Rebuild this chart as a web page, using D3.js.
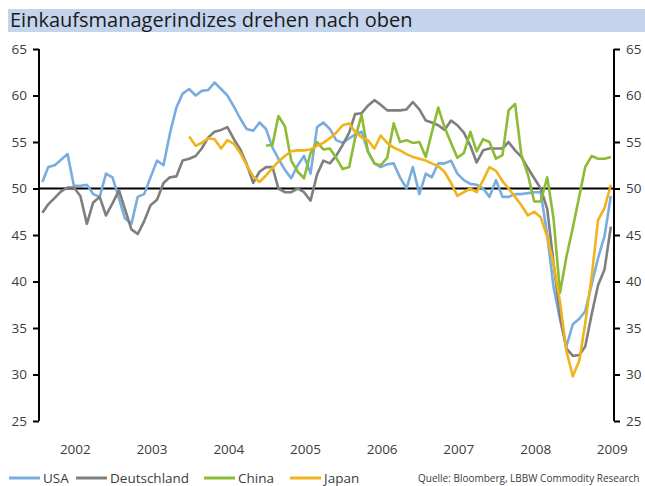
<!DOCTYPE html>
<html lang="de">
<head>
<meta charset="utf-8">
<script src="https://d3js.org/d3.v7.min.js"></script>
<style>
  body { margin: 0; background: #fff; }
  text { font-family: "Open Sans", "DejaVu Sans", sans-serif; }
</style>
</head>
<body>
<svg id="chart" width="645" height="486"></svg>
<script>
  // monthly PMI values, USA + Deutschland from Feb 2002 to Jul 2009
  var usa = [50.7, 52.3, 52.5, 53.1, 53.7, 50.3, 50.3, 50.4, 49.4, 49.1,
    51.6, 51.2, 48.9, 46.8, 46.2, 49.1, 49.4, 51.2, 53.0, 52.5,
    55.9, 58.7, 60.2, 60.7, 60.0, 60.5, 60.6, 61.4, 60.7, 60.0,
    58.8, 57.5, 56.4, 56.2, 57.1, 56.4, 54.4, 53.2, 52.0, 51.1,
    52.5, 53.5, 51.6, 56.6, 57.1, 56.4, 55.2, 54.9, 55.4, 55.8,
    56.1, 54.0, 52.7, 52.3, 52.6, 52.7, 51.2, 50.0, 52.3, 49.4,
    51.6, 51.2, 52.7, 52.7, 53.0, 51.6, 50.9, 50.5, 50.4, 50.0,
    49.1, 50.9, 49.1, 49.1, 49.4, 49.4, 49.5, 49.6, 49.6, 45.0,
    39.4, 35.9, 33.0, 35.4, 36.0, 36.8, 39.7, 42.5, 44.9, 49.2];

  var deutschland = [47.4, 48.3, 49.0, 49.7, 50.1, 50.1, 49.2, 46.2, 48.5, 49.1,
    47.1, 48.4, 49.8, 47.8, 45.6, 45.1, 46.5, 48.2, 48.8, 50.6,
    51.2, 51.3, 53.0, 53.2, 53.5, 54.3, 55.5, 56.1, 56.3, 56.6,
    55.3, 54.2, 52.6, 50.6, 51.8, 52.3, 52.3, 50.0, 49.6, 49.6,
    50.0, 49.6, 48.7, 51.5, 53.0, 52.7, 53.5, 54.7, 56.0, 58.0,
    58.1, 58.9, 59.5, 59.0, 58.4, 58.4, 58.4, 58.5, 59.3, 58.5,
    57.3, 57.1, 56.8, 56.3, 57.3, 56.8, 56.0, 54.6, 52.8, 54.1,
    54.3, 54.3, 54.3, 55.0, 54.1, 53.4, 52.2, 51.1, 50.0, 47.8,
    42.0, 36.3, 32.8, 32.0, 32.1, 33.0, 36.5, 39.6, 41.3, 45.9];

  // China from Jan 2005
  var china = [54.6, 54.7, 57.8, 56.7, 53.0, 51.8, 51.1, 53.8, 55.0, 54.2,
    54.3, 53.3, 52.1, 52.3, 55.4, 57.9, 54.0, 52.7, 52.5, 53.3,
    57.0, 55.0, 55.2, 54.9, 55.0, 53.4, 56.0, 58.7, 56.6, 54.9,
    53.3, 53.8, 56.1, 54.0, 55.3, 55.0, 53.2, 53.6, 58.4, 59.1,
    53.6, 51.5, 48.6, 48.6, 51.2, 46.8, 38.8, 42.6, 45.8, 49.2,
    52.3, 53.5, 53.2, 53.2, 53.4];

  // Japan from Jan 2004
  var japan = [55.6, 54.6, 54.9, 55.4, 55.3, 54.3, 55.2,
    54.8, 53.8, 52.5, 51.3, 50.7, 51.4, 52.2, 52.9, 53.5, 54.0,
    54.1, 54.1, 54.2, 54.6, 54.9, 55.4, 56.0, 56.8, 57.0, 56.1,
    55.5, 55.2, 54.3, 55.7, 54.9, 54.4, 54.1, 53.7, 53.4, 53.2,
    53.0, 52.7, 52.4, 51.8, 50.6, 49.2, 49.6, 50.0, 49.6, 50.9,
    52.3, 51.9, 50.8, 50.0, 49.1, 48.2, 47.1, 47.5, 46.9, 44.8,
    41.9, 37.8, 32.6, 29.8, 31.5, 35.5, 40.6, 46.6, 47.9, 50.4];

  var years = [2002, 2003, 2004, 2005, 2006, 2007, 2008, 2009];
  var yTicks = [25, 30, 35, 40, 45, 50, 55, 60, 65];

  var series = [
    { name: "USA", color: "#7aaddf", start: new Date(2002, 1, 1), values: usa },
    { name: "Deutschland", color: "#7f7f7f", start: new Date(2002, 1, 1), values: deutschland },
    { name: "China", color: "#8cbb34", start: new Date(2005, 0, 1), values: china },
    { name: "Japan", color: "#f0b31c", start: new Date(2004, 0, 1), values: japan }
  ];

  var svg = d3.select("#chart");

  var plotLeft = 39, plotRight = 614, plotTop = 49, plotBottom = 421;

  var x = d3.scaleTime()
    .domain([new Date(2002, 0, 16), new Date(2009, 6, 16)])
    .range([plotLeft, plotRight]);

  var y = d3.scaleLinear()
    .domain([25, 65])
    .range([plotBottom, plotTop]);

  // title bar
  svg.append("rect")
    .attr("x", 8)
    .attr("y", 9)
    .attr("width", 637)
    .attr("height", 23)
    .attr("fill", "#c3d4ec");

  svg.append("text")
    .attr("x", 10)
    .attr("y", 27)
    .attr("font-size", "20px")
    .attr("fill", "#1a1a1a")
    .text("Einkaufsmanagerindizes drehen nach oben");

  // 50 line
  svg.append("line")
    .attr("x1", plotLeft)
    .attr("x2", plotRight)
    .attr("y1", y(50))
    .attr("y2", y(50))
    .attr("stroke", "#000")
    .attr("stroke-width", 2);

  var line = d3.line()
    .x(function (d) { return x(d.date); })
    .y(function (d) { return y(d.value); });

  series.forEach(function (s) {
    var pts = s.values.map(function (v, i) {
      return { date: d3.timeMonth.offset(s.start, i), value: v };
    });
    svg.append("path")
      .datum(pts)
      .attr("fill", "none")
      .attr("stroke", s.color)
      .attr("stroke-width", 2.6)
      .attr("stroke-linejoin", "round")
      .attr("d", line);
  });

  // y axes left and right
  var yLeft = d3.axisLeft(y).tickValues(yTicks).tickSize(6).tickPadding(6);
  var yRight = d3.axisRight(y).tickValues(yTicks).tickSize(6).tickPadding(6);

  var gl = svg.append("g")
    .attr("transform", "translate(" + plotLeft + ",0)")
    .call(yLeft);
  var gr = svg.append("g")
    .attr("transform", "translate(" + plotRight + ",0)")
    .call(yRight);

  [gl, gr].forEach(function (g) {
    g.select(".domain").attr("d", "M0," + plotBottom + "V" + plotTop).attr("stroke", "#000").attr("stroke-width", 2);
    g.selectAll(".tick line").attr("stroke", "#000").attr("stroke-width", 2);
    g.selectAll(".tick text")
      .attr("font-family", "Open Sans, sans-serif")
      .attr("font-size", "13.5px")
      .attr("fill", "#3c3c3c");
  });

  // year labels
  svg.append("g")
    .selectAll("text")
    .data(years)
    .enter()
    .append("text")
    .attr("x", function (d) { return x(new Date(d, 6, 8)); })
    .attr("y", 454)
    .attr("text-anchor", "middle")
    .attr("font-size", "13.5px")
    .attr("fill", "#3c3c3c")
    .text(function (d) { return d; });

  // legend
  var legendX = [9, 76, 204, 290];
  var leg = svg.append("g")
    .selectAll("g")
    .data(series)
    .enter()
    .append("g")
    .attr("transform", function (d, i) { return "translate(" + legendX[i] + ",478)"; });

  leg.append("line")
    .attr("x1", 0)
    .attr("x2", 31)
    .attr("stroke", function (d) { return d.color; })
    .attr("stroke-width", 3);

  leg.append("text")
    .attr("x", 34)
    .attr("y", 5)
    .attr("font-size", "13.5px")
    .attr("fill", "#3c3c3c")
    .text(function (d) { return d.name; });

  svg.append("text")
    .attr("x", 418)
    .attr("y", 482)
    .attr("font-size", "10px")
    .attr("fill", "#3c3c3c")
    .text("Quelle: Bloomberg, LBBW Commodity Research");
</script>
</body>
</html>
